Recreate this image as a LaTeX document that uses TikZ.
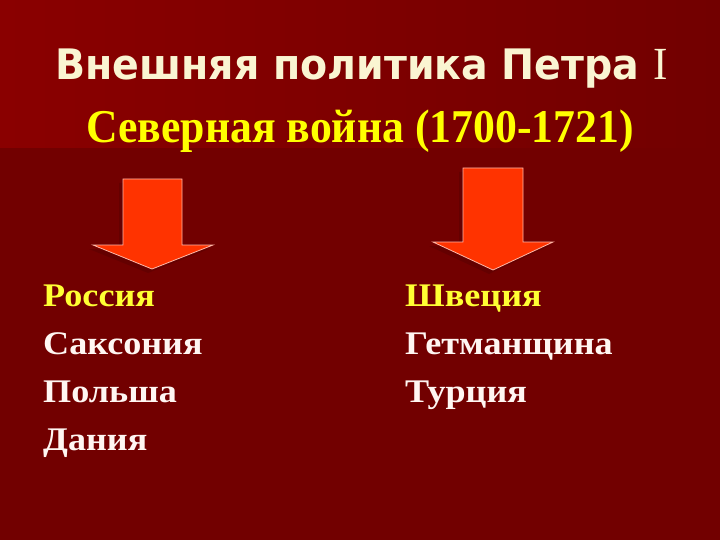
\documentclass[tikz,border=0pt]{standalone}
\usepackage{fontspec}
\setmainfont{Liberation Serif}
\newfontfamily\headfont{DejaVu Sans}
\usetikzlibrary{positioning}

\definecolor{slidebg}{HTML}{720000}
\definecolor{bandleft}{HTML}{8A0000}
\definecolor{arrowfill}{HTML}{FF3300}
\definecolor{arrowedge}{HTML}{FFB8A8}
\definecolor{arrowshade}{HTML}{5C0000}
\definecolor{headcream}{HTML}{FAF5D2}
\definecolor{waryellow}{HTML}{FFFF00}
\definecolor{sideyellow}{HTML}{FFFF33}
\definecolor{sidewhite}{HTML}{FFF6F2}

\newcommand\widelabel[1]{\scalebox{1.095}[1]{#1}}

\tikzset{
  downarrow/.style={fill=arrowfill, draw=arrowedge, line width=0.8pt, line join=miter},
  arrowshadow/.style={fill=arrowshade, opacity=0.6},
  country/.style={anchor=base west, inner sep=0pt, text=sidewhite,
    font=\bfseries\fontsize{33}{38}\selectfont},
  leader/.style={country, text=sideyellow},
}

\begin{document}
\begin{tikzpicture}[x=1pt,y=-1pt]

  \useasboundingbox (0,0) rectangle (720,540);
  \fill[slidebg] (0,0) rectangle (720,540);
  \shade[left color=bandleft, right color=slidebg] (0,0) rectangle (720,148);

  % headings
  \node[anchor=base, inner sep=0pt, text=headcream,
    font=\headfont\bfseries\fontsize{42}{50}\selectfont] (title) at (361.5,80)
    {\scalebox{0.94}[1]{Внешняя политика Петра {\rmfamily\mdseries\fontsize{46}{50}\selectfont I}}};
  \node[anchor=base, inner sep=0pt, text=waryellow,
    font=\bfseries\fontsize{47}{55}\selectfont] (subtitle) at (360,143)
    {\scalebox{0.93}[1]{Северная война (1700-1721)}};

  % arrows
  \fill[arrowshadow] (119,183) -- (178,183) -- (178,249) -- (209,249) -- (148,273) -- (89,249) -- (119,249) -- cycle;
  \draw[downarrow] (123,179) -- (182,179) -- (182,245) -- (213,245) -- (152,269) -- (93,245) -- (123,245) -- cycle;
  \fill[arrowshadow] (459,172) -- (519,172) -- (519,246) -- (549,246) -- (489,274) -- (429,246) -- (459,246) -- cycle;
  \draw[downarrow] (463,168) -- (523,168) -- (523,242) -- (553,242) -- (493,270) -- (433,242) -- (463,242) -- cycle;

  % allies
  \node[leader] (russia) at (43,306) {\widelabel{Россия}};
  \node[country] (saxony) at (43,354) {\widelabel{Саксония}};
  \node[country] (poland) at (43,402) {\widelabel{Польша}};
  \node[country] (denmark) at (43,450) {\widelabel{Дания}};

  % enemies
  \node[leader] (sweden) at (405,306) {\widelabel{Швеция}};
  \node[country] (hetmanate) at (405,354) {\widelabel{Гетманщина}};
  \node[country] (turkey) at (405,402) {\widelabel{Турция}};

\end{tikzpicture}
\end{document}
